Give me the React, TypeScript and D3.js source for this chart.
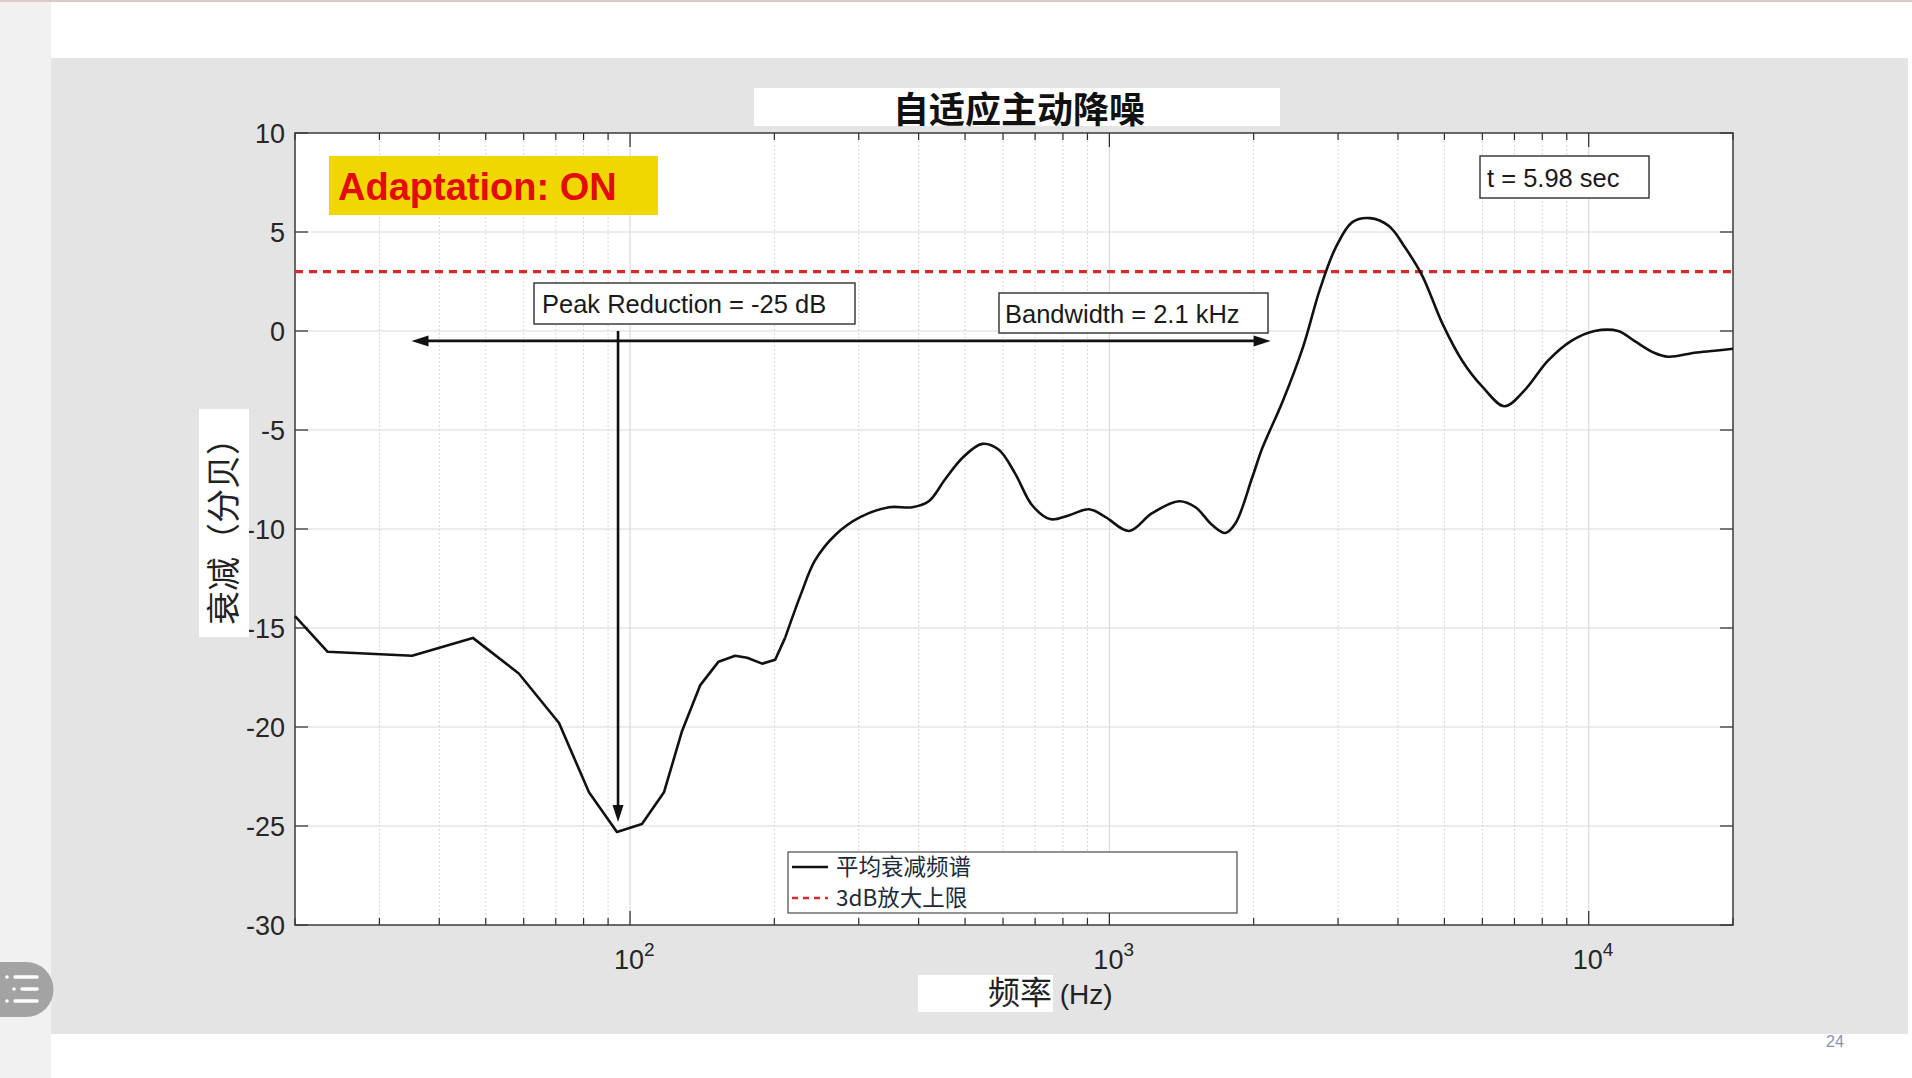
import { useRef, useEffect } from 'react'
import * as d3 from 'd3'

// averaged attenuation spectrum
const freqHz = [
  20.0, 23.4, 35.1, 47.0, 58.6, 71.1, 82.1, 93.9, 105.9, 117.7, 128.4, 140, 153, 165.7, 175.5, 188.6, 200.8, 210.6,
  228, 243, 268, 302, 347, 388, 420, 454, 494, 543, 588, 636, 690, 752, 825, 907, 982, 1099, 1228, 1398, 1512,
  1639, 1747, 1834, 1986, 2086, 2295, 2536, 2749, 2964, 3213, 3497, 3830, 4143, 4494, 4947, 5446, 5993, 6678,
  7345, 8224, 9202, 10290, 11520, 12450, 13690, 14650, 16620, 18300, 20000,
]
const attenDb = [
  -14.4, -16.2, -16.4, -15.5, -17.3, -19.8, -23.3, -25.3, -24.9, -23.3, -20.2, -17.9, -16.7, -16.4, -16.5, -16.8, -16.6, -15.5,
  -13.2, -11.6, -10.3, -9.4, -8.9, -8.9, -8.6, -7.5, -6.4, -5.7, -6.0, -7.2, -8.8, -9.5, -9.3, -9.0, -9.4, -10.1, -9.2, -8.6, -8.9,
  -9.8, -10.2, -9.7, -7.4, -5.9, -3.6, -0.8, 2.1, 4.2, 5.5, 5.7, 5.3, 4.2, 2.8, 0.4, -1.5, -2.8, -3.8,
  -3.0, -1.5, -0.5, 0.0, 0.0, -0.5, -1.1, -1.3, -1.1, -1.0, -0.9,
]
// the low-frequency part is drawn with straight segments
const linearCount = 18

const limitDb = 3
const yTicks = [10, 5, 0, -5, -10, -15, -20, -25, -30]
const decades = [100, 1000, 10000]
const decadeExp = ['2', '3', '4']
const legendLabels = ['平均衰减频谱', '3dB放大上限']

const titleText = '自适应主动降噪'
const yLabel = '衰减（分贝）'
const xLabelCn = '频率'
const xLabelEn = ' (Hz)'
const badgeText = 'Adaptation: ON'
const timeText = 't = 5.98 sec'
const peakText = 'Peak Reduction = -25 dB'
const bwText = 'Bandwidth = 2.1 kHz'

// arrow ends (Hz / dB)
const bandArrow = { f0: 35, f1: 2170, db: -0.5 }
const peakArrow = { f: 94.4, db0: 0, db1: -24.8 }

const W = 1912
const H = 1078
const plot = { left: 295, right: 1733, top: 133, bottom: 925 }
const sans = "'Liberation Sans', Arial, sans-serif"
const cjk = "'Noto Sans CJK SC', 'Noto Sans', sans-serif"

const App = () => {
  const svgRef = useRef(null)

  useEffect(() => {
    document.body.style.margin = '0'
    const svg = d3.select(svgRef.current)
    svg.selectAll('*').remove()

    const x = d3.scaleLog().domain([20, 20000]).range([plot.left, plot.right])
    const y = d3.scaleLinear().domain([-30, 10]).range([plot.bottom, plot.top])

    // page
    svg.append('rect').attr('width', W).attr('height', H).attr('fill', '#ffffff')
    svg.append('rect').attr('x', 0).attr('y', 0).attr('width', 51).attr('height', H).attr('fill', '#f1f1f1')
    svg.append('rect').attr('x', 0).attr('y', 0).attr('width', W).attr('height', 2).attr('fill', '#dccbc4')
    svg.append('rect').attr('x', 51).attr('y', 58).attr('width', 1857).attr('height', 976).attr('fill', '#e4e4e4')

    // plot background
    svg.append('rect')
      .attr('x', plot.left).attr('y', plot.top)
      .attr('width', plot.right - plot.left).attr('height', plot.bottom - plot.top)
      .attr('fill', '#ffffff')

    const g = svg.append('g')

    // grid
    const allTicks = x.ticks()
    const minor = allTicks.filter(t => !decades.includes(t) && t > 20 && t < 20000)
    g.selectAll('.gminor').data(minor).enter().append('line')
      .attr('x1', d => x(d)).attr('x2', d => x(d))
      .attr('y1', plot.top).attr('y2', plot.bottom)
      .attr('stroke', '#c8c8c8').attr('stroke-width', 1).attr('stroke-dasharray', '1.5,2.5')
    g.selectAll('.gmajor').data(decades).enter().append('line')
      .attr('x1', d => x(d)).attr('x2', d => x(d))
      .attr('y1', plot.top).attr('y2', plot.bottom)
      .attr('stroke', '#dadada').attr('stroke-width', 1.2)
    g.selectAll('.gy').data(yTicks.filter(t => t < 10 && t > -30)).enter().append('line')
      .attr('x1', plot.left).attr('x2', plot.right)
      .attr('y1', d => y(d)).attr('y2', d => y(d))
      .attr('stroke', '#dadada').attr('stroke-width', 1.2)

    // ticks on all four sides, pointing inward
    const axisCol = '#2b2b2b'
    const minorAll = allTicks.filter(t => !decades.includes(t))
    ;[plot.bottom, plot.top].forEach((yy, k) => {
      const dir = k === 0 ? -1 : 1
      g.selectAll('.tm' + k).data(minorAll).enter().append('line')
        .attr('x1', d => x(d)).attr('x2', d => x(d))
        .attr('y1', yy).attr('y2', yy + dir * 7)
        .attr('stroke', axisCol).attr('stroke-width', 1.2)
      g.selectAll('.tM' + k).data(decades).enter().append('line')
        .attr('x1', d => x(d)).attr('x2', d => x(d))
        .attr('y1', yy).attr('y2', yy + dir * 14)
        .attr('stroke', axisCol).attr('stroke-width', 1.2)
    })
    ;[plot.left, plot.right].forEach((xx, k) => {
      const dir = k === 0 ? 1 : -1
      g.selectAll('.ty' + k).data(yTicks).enter().append('line')
        .attr('x1', xx).attr('x2', xx + dir * 13)
        .attr('y1', d => y(d)).attr('y2', d => y(d))
        .attr('stroke', axisCol).attr('stroke-width', 1.2)
    })

    // frame
    g.append('rect')
      .attr('x', plot.left).attr('y', plot.top)
      .attr('width', plot.right - plot.left).attr('height', plot.bottom - plot.top)
      .attr('fill', 'none').attr('stroke', '#3a3a3a').attr('stroke-width', 1.5)

    // tick labels
    g.selectAll('.yl').data(yTicks).enter().append('text')
      .attr('x', plot.left - 10).attr('y', d => y(d))
      .attr('dy', '0.36em').attr('text-anchor', 'end')
      .attr('font-family', sans).attr('font-size', 27).attr('fill', '#262626')
      .text(d => d)
    const xl = g.selectAll('.xl').data(decades).enter().append('text')
      .attr('x', d => x(d) - 16).attr('y', plot.bottom + 44)
      .attr('font-family', sans).attr('font-size', 27).attr('fill', '#262626')
    xl.append('tspan').text('10')
    xl.append('tspan').attr('dy', -13).attr('font-size', 19).text((d, i) => decadeExp[i])

    // 3 dB limit
    g.append('line')
      .attr('x1', plot.left).attr('x2', plot.right)
      .attr('y1', y(limitDb)).attr('y2', y(limitDb))
      .attr('stroke', '#d42a2a').attr('stroke-width', 3.2).attr('stroke-dasharray', '8,6')

    // spectrum
    const pts = freqHz.map((f, i) => [x(f), y(attenDb[i])])
    g.append('path')
      .attr('d', d3.line().curve(d3.curveLinear)(pts.slice(0, linearCount)))
      .attr('fill', 'none').attr('stroke', '#111').attr('stroke-width', 2.6).attr('stroke-linejoin', 'round')
    g.append('path')
      .attr('d', d3.line().curve(d3.curveCatmullRom.alpha(0.5))(pts.slice(linearCount - 1)))
      .attr('fill', 'none').attr('stroke', '#111').attr('stroke-width', 2.6).attr('stroke-linejoin', 'round')

    // arrows
    const head = (tipX, tipY, ang) => {
      const len = 17, half = 5.5
      const c = Math.cos(ang), s = Math.sin(ang)
      const bx = tipX - c * len, by = tipY - s * len
      return `M${tipX},${tipY}L${bx - s * half},${by + c * half}L${bx + s * half},${by - c * half}Z`
    }
    const ax0 = x(bandArrow.f0), ax1 = x(bandArrow.f1), ay = y(bandArrow.db)
    g.append('line').attr('x1', ax0 + 10).attr('x2', ax1 - 10).attr('y1', ay).attr('y2', ay)
      .attr('stroke', '#111').attr('stroke-width', 2.6)
    g.append('path').attr('d', head(ax0, ay, Math.PI)).attr('fill', '#111')
    g.append('path').attr('d', head(ax1, ay, 0)).attr('fill', '#111')
    const px = x(peakArrow.f), py0 = y(peakArrow.db0), py1 = y(peakArrow.db1)
    g.append('line').attr('x1', px).attr('x2', px).attr('y1', py0).attr('y2', py1 - 10)
      .attr('stroke', '#111').attr('stroke-width', 2.6)
    g.append('path').attr('d', head(px, py1, Math.PI / 2)).attr('fill', '#111')

    // text boxes
    const box = (bx, by, bw, bh, txt, tx, ty) => {
      g.append('rect').attr('x', bx).attr('y', by).attr('width', bw).attr('height', bh)
        .attr('fill', '#ffffff').attr('stroke', '#3c3c3c').attr('stroke-width', 1.5)
      g.append('text').attr('x', tx).attr('y', ty)
        .attr('font-family', sans).attr('font-size', 25.5).attr('fill', '#1a1a1a').text(txt)
    }
    box(534, 283, 321, 41, peakText, 542, 313)
    box(999, 293, 269, 40, bwText, 1005, 323)
    box(1480, 156, 169, 42, timeText, 1487, 187)

    // adaptation badge
    g.append('rect').attr('x', 329).attr('y', 156).attr('width', 329).attr('height', 59).attr('fill', '#f0d700')
    g.append('text').attr('x', 338).attr('y', 200)
      .attr('font-family', sans).attr('font-size', 38).attr('font-weight', 700).attr('fill', '#e30b0b')
      .text(badgeText)

    // legend
    g.append('rect').attr('x', 788).attr('y', 852).attr('width', 449).attr('height', 61)
      .attr('fill', '#ffffff').attr('stroke', '#4a4a4a').attr('stroke-width', 1.2)
    const legRows = [867, 898]
    legRows.forEach((ly, i) => {
      g.append('line').attr('x1', 792).attr('x2', 828).attr('y1', ly).attr('y2', ly)
        .attr('stroke', i === 0 ? '#111' : '#d42a2a').attr('stroke-width', 2.6)
        .attr('stroke-dasharray', i === 0 ? null : '6,5')
      g.append('text').attr('x', 836).attr('y', ly + 8)
        .attr('font-family', cjk).attr('font-size', 22.5).attr('fill', '#1c2b3a')
        .text(legendLabels[i])
    })

    // title
    svg.append('rect').attr('x', 754).attr('y', 88).attr('width', 526).attr('height', 38).attr('fill', '#ffffff')
    svg.append('text').attr('x', 1019).attr('y', 123).attr('text-anchor', 'middle')
      .attr('font-family', cjk).attr('font-size', 36).attr('font-weight', 700).attr('fill', '#111')
      .text(titleText)

    // y label
    svg.append('rect').attr('x', 199).attr('y', 409).attr('width', 50).attr('height', 228).attr('fill', '#ffffff')
    svg.append('text').attr('transform', 'translate(236,523) rotate(-90)').attr('text-anchor', 'middle')
      .attr('font-family', cjk).attr('font-size', 34).attr('fill', '#222')
      .text(yLabel)

    // x label
    svg.append('rect').attr('x', 918).attr('y', 975).attr('width', 135).attr('height', 37).attr('fill', '#ffffff')
    const xt = svg.append('text').attr('x', 988).attr('y', 1004).attr('fill', '#222')
    xt.append('tspan').attr('font-family', cjk).attr('font-size', 32).text(xLabelCn)
    xt.append('tspan').attr('font-family', sans).attr('font-size', 28).text(xLabelEn)

    // side menu button and page number
    svg.append('path')
      .attr('d', 'M0,962H26A27.5,27.5 0 0 1 26,1017H0Z').attr('fill', '#a3a3a3')
    ;[977, 989, 1001].forEach((yy, i) => {
      const dx = i === 1 ? 14 : 7
      svg.append('circle').attr('cx', dx).attr('cy', yy).attr('r', 1.8).attr('fill', '#fff')
      svg.append('line').attr('x1', dx + 8).attr('x2', 37).attr('y1', yy).attr('y2', yy)
        .attr('stroke', '#fff').attr('stroke-width', 3.5).attr('stroke-linecap', 'round')
    })
    svg.append('text').attr('x', 1826).attr('y', 1047)
      .attr('font-family', sans).attr('font-size', 16).attr('fill', '#8893ad').text('24')
  })

  return (
    <svg ref={svgRef} width={W} height={H} style={{ display: 'block' }}></svg>
  )
}

export default App
